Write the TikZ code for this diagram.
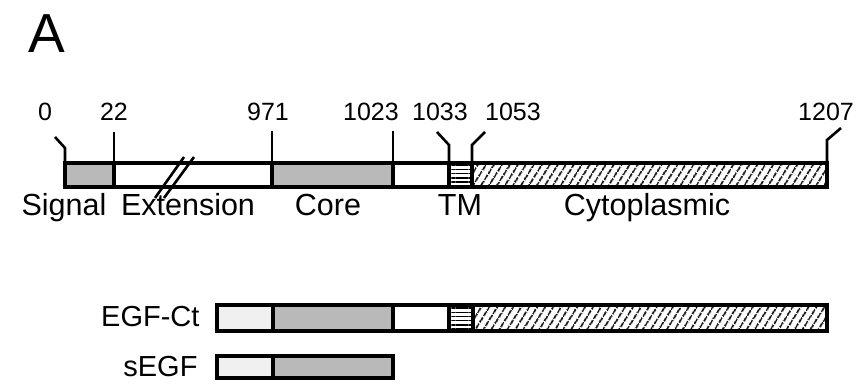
\documentclass[tikz,border=0pt]{standalone}
\usepackage{fontspec}
\setmainfont{Liberation Sans}
\usepackage{tikz}
\usetikzlibrary{patterns.meta}
\definecolor{stipple}{RGB}{185,185,185}
\definecolor{faint}{RGB}{240,240,240}

\begin{document}
\begin{tikzpicture}[x=1pt, y=-1pt,
  box/.style={draw=black, line width=3.2pt},
  core/.style={box, fill=stipple},
  sig/.style={box, fill=faint},
  tmseg/.style={box, pattern={Lines[angle=0, distance=4.2pt, line width=1.4pt]}},
  cyto/.style={box, pattern={Lines[angle=58, distance=6.5pt, line width=1.8pt]}},
  tick/.style={black, line width=2.6pt},
  num/.style={font=\fontsize{25}{29}\selectfont, anchor=base},
  dom/.style={font=\fontsize{30.5}{34}\selectfont, anchor=base},
  tag/.style={font=\fontsize{29}{33}\selectfont, anchor=base east},
]
  \useasboundingbox (0,0) rectangle (865,388);

  \node[font=\fontsize{55}{60}\selectfont, anchor=base] (panel) at (47,52) {A};

  % Full-length receptor
  \draw[core] (65,163) rectangle (114,187);
  \draw[box] (114,163) rectangle (272,187);
  \draw[core] (272,163) rectangle (393,187);
  \draw[box] (393,163) rectangle (449,187);
  \draw[tmseg] (449,163) rectangle (472,187);
  \draw[cyto] (472,163) rectangle (827,187);

  % break in the extension
  \draw[tick] (155,198) -- (184,157);
  \draw[tick] (164,198) -- (194,157);

  % residue numbers
  \node[num] (n0) at (45,120) {0};
  \node[num] (n22) at (114,120) {22};
  \node[num] (n971) at (268,120) {971};
  \node[num] (n1023) at (371,120) {1023};
  \node[num] (n1033) at (440,120) {1033};
  \node[num] (n1053) at (513,120) {1053};
  \node[num] (n1207) at (826,120) {1207};

  \draw[tick] (65,163) -- (65,148) -- (55,137);
  \draw[tick] (114,163) -- (114,132);
  \draw[tick] (272,163) -- (272,131);
  \draw[tick] (393,163) -- (393,131);
  \draw[tick] (449,163) -- (449,145) -- (437,132);
  \draw[tick] (472,163) -- (472,145) -- (485,132);
  \draw[tick] (827,163) -- (827,140) -- (841,128);

  % domain names
  \node[dom] (signal) at (64,215) {Signal};
  \node[dom] (ext) at (188,215) {Extension};
  \node[dom] (corename) at (328,215) {Core};
  \node[dom] (tm) at (460,215) {TM};
  \node[dom] (cytoname) at (647,215) {Cytoplasmic};

  % EGF-Ct construct
  \node[tag] (egfct) at (203,326) {EGF-Ct};
  \draw[sig] (217,305) rectangle (273,331);
  \draw[core] (273,305) rectangle (393,331);
  \draw[box] (393,305) rectangle (449,331);
  \draw[tmseg] (449,305) rectangle (473,331);
  \draw[cyto] (473,305) rectangle (827,331);

  % sEGF construct
  \node[tag] (segf) at (201,376) {sEGF};
  \draw[sig] (217,356) rectangle (273,378);
  \draw[core] (273,356) rectangle (393,378);
\end{tikzpicture}
\end{document}
